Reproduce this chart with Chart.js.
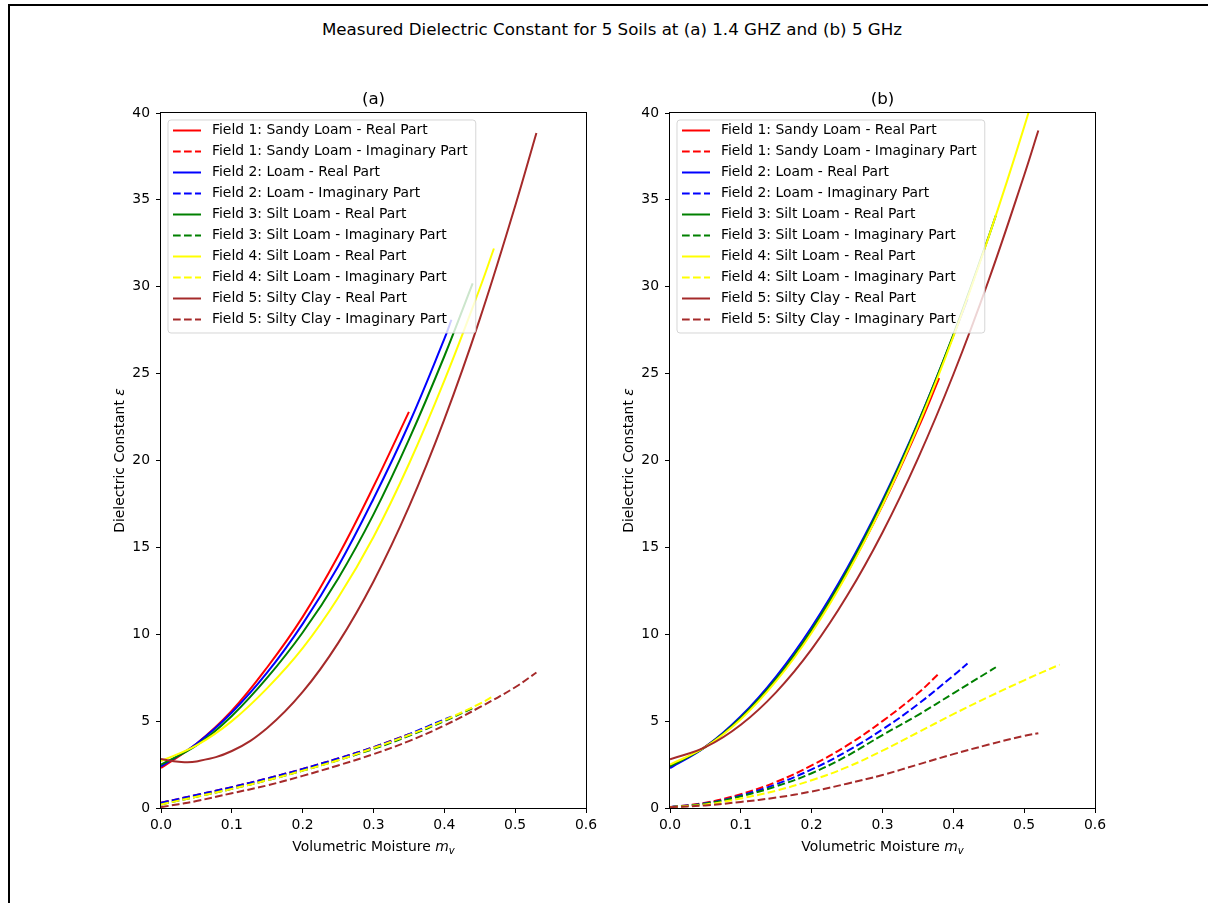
<!DOCTYPE html>
<html>
<head>
<meta charset="utf-8">
<title>Dielectric Constant of 5 Soils</title>
<script src="https://cdn.jsdelivr.net/npm/chart.js@4.4.1/dist/chart.umd.min.js"></script>
<style>
    html, body { margin: 0; padding: 0; background: #fff; }
    body { width: 1209px; height: 903px; position: relative; overflow: hidden; font-family: "DejaVu Sans", sans-serif; }
    #frame { position: absolute; left: 8px; top: 4px; right: 1px; bottom: -4px; border-top: 2px solid #000; border-left: 2px solid #000; }
    #suptitle { position: absolute; left: 15px; right: 0; top: 19px; line-height: 20px; text-align: center; font-size: 16.7px; color: #000; }
    canvas { position: absolute; top: 0; }
    #chart-a { left: 0; }
    #chart-b { left: 605px; }
</style>
</head>
<body>
<div id="frame"></div>
<div id="suptitle">Measured Dielectric Constant for 5 Soils at (a) 1.4 GHZ and (b) 5 GHz</div>
<canvas id="chart-a" width="605" height="903"></canvas>
<canvas id="chart-b" width="604" height="903"></canvas>
<script>
const fieldNames = ['Field 1: Sandy Loam', 'Field 2: Loam', 'Field 3: Silt Loam', 'Field 4: Silt Loam', 'Field 5: Silty Clay'];
const fieldColors = ['#ff0000', '#0000ff', '#008000', '#ffff00', '#a52a2a'];
const xTicks = [0, 0.1, 0.2, 0.3, 0.4, 0.5, 0.6];
const yTicks = [0, 5, 10, 15, 20, 25, 30, 35, 40];

// (a) 1.4 GHz - volumetric moisture per field and measured real / imaginary parts
const mvA1 = [0, 0.05, 0.1, 0.15, 0.2, 0.25, 0.3, 0.35];
const realA1 = [2.3, 3.7, 5.6, 8.1, 11.0, 14.5, 18.5, 22.8];
const imagA1 = [0.3, 0.75, 1.2, 1.7, 2.25, 2.85, 3.5, 4.25];

const mvA2 = [0, 0.05, 0.1, 0.15, 0.2, 0.25, 0.3, 0.35, 0.4, 0.41];
const realA2 = [2.4, 3.7, 5.5, 7.8, 10.6, 13.9, 17.8, 22.1, 27.0, 28.1];
const imagA2 = [0.3, 0.75, 1.2, 1.7, 2.25, 2.85, 3.5, 4.25, 5.1, 5.25];

const mvA3 = [0, 0.05, 0.1, 0.15, 0.2, 0.25, 0.3, 0.35, 0.4, 0.44];
const realA3 = [2.5, 3.6, 5.3, 7.5, 10.1, 13.2, 16.9, 21.2, 26.0, 30.2];
const imagA3 = [0.2, 0.65, 1.1, 1.6, 2.15, 2.75, 3.4, 4.15, 5.0, 5.75];

const mvA4 = [0, 0.05, 0.1, 0.15, 0.2, 0.25, 0.3, 0.35, 0.4, 0.45, 0.47];
const realA4 = [2.7, 3.6, 5.0, 6.9, 9.2, 12.1, 15.6, 19.8, 24.6, 29.9, 32.2];
const imagA4 = [0.2, 0.65, 1.1, 1.6, 2.15, 2.75, 3.45, 4.2, 5.05, 6.0, 6.45];

const mvA5 = [0, 0.025, 0.05, 0.1, 0.15, 0.2, 0.25, 0.3, 0.35, 0.4, 0.45, 0.5, 0.53];
const realA5 = [2.82, 2.66, 2.68, 3.28, 4.61, 6.68, 9.49, 13.04, 17.33, 22.37, 28.14, 34.65, 38.85];
const imagA5 = [0.05, 0.22, 0.4, 0.85, 1.3, 1.85, 2.45, 3.1, 3.85, 4.75, 5.8, 6.95, 7.8];

// (b) 5 GHz
const mvB1 = [0, 0.05, 0.1, 0.15, 0.2, 0.25, 0.3, 0.35, 0.38];
const realB1 = [2.4, 3.53, 5.2, 7.43, 10.2, 13.53, 17.4, 21.83, 24.74];
const imagB1 = [0.05, 0.3, 0.8, 1.5, 2.45, 3.6, 5.0, 6.6, 7.75];

const mvB2 = [0, 0.05, 0.1, 0.15, 0.2, 0.25, 0.3, 0.35, 0.4, 0.42];
const realB2 = [2.3, 3.52, 5.28, 7.58, 10.42, 13.8, 17.72, 22.18, 27.18, 29.3];
const imagB2 = [0.05, 0.27, 0.72, 1.37, 2.22, 3.27, 4.52, 5.97, 7.62, 8.32];

const mvB3 = [0, 0.05, 0.1, 0.15, 0.2, 0.25, 0.3, 0.35, 0.4, 0.45, 0.46];
const realB3 = [2.4, 3.51, 5.19, 7.44, 10.26, 13.65, 17.61, 22.14, 27.24, 32.9, 34.1];
const imagB3 = [0.05, 0.25, 0.67, 1.25, 2.0, 3.0, 4.2, 5.35, 6.6, 7.85, 8.1];

const mvB4 = [0, 0.05, 0.1, 0.15, 0.2, 0.25, 0.3, 0.35, 0.4, 0.45, 0.5, 0.55];
const realB4 = [2.5, 3.51, 5.11, 7.31, 10.09, 13.47, 17.43, 21.98, 27.13, 32.88, 39.2, 46.1];
const imagB4 = [0.05, 0.2, 0.55, 1.0, 1.6, 2.35, 3.3, 4.35, 5.4, 6.4, 7.35, 8.25];

const mvB5 = [0, 0.05, 0.1, 0.15, 0.2, 0.25, 0.3, 0.35, 0.4, 0.45, 0.5, 0.52];
const realB5 = [2.8, 3.5, 4.79, 6.67, 9.14, 12.21, 15.86, 20.11, 24.95, 30.39, 36.42, 38.99];
const imagB5 = [0.05, 0.15, 0.35, 0.6, 0.95, 1.4, 1.9, 2.5, 3.1, 3.65, 4.15, 4.3];

const FONT = '"DejaVu Sans", sans-serif';
const TEXT_PX = 13.9;
const DASH = [7.7, 3.3];

function buildDatasets(mvs, reals, imags) {
    const sets = [];
    fieldNames.forEach((name, i) => {
        sets.push({
            label: name + ' - Real Part',
            data: mvs[i].map((m, k) => ({ x: m, y: reals[i][k] })),
            borderColor: fieldColors[i],
            borderDash: []
        });
        sets.push({
            label: name + ' - Imaginary Part',
            data: mvs[i].map((m, k) => ({ x: m, y: imags[i][k] })),
            borderColor: fieldColors[i],
            borderDash: DASH
        });
    });
    // later series sit on top, like the plotting order
    sets.forEach((s, i) => {
        s.order = sets.length - i;
        s.borderWidth = 2;
        s.pointRadius = 0;
        s.fill = false;
        s.tension = 0.4;
    });
    return sets;
}

// draws a run of text pieces with their own fonts, centred on cx
function drawRich(ctx, parts, cx, baseline) {
    let total = 0;
    parts.forEach(p => { ctx.font = p.font; p.w = ctx.measureText(p.text).width; total += p.w; });
    let x = cx - total / 2;
    ctx.textAlign = 'left';
    ctx.textBaseline = 'alphabetic';
    parts.forEach(p => {
        ctx.font = p.font;
        ctx.fillText(p.text, x, baseline + (p.dy || 0));
        x += p.w;
    });
}

const panelDecor = {
    id: 'panelDecor',
    afterDatasetsDraw(chart) {
        const ctx = chart.ctx;
        const area = chart.chartArea;
        const sets = chart.data.datasets;
        const font = TEXT_PX + 'px ' + FONT;
        ctx.save();
        ctx.font = font;
        const textW = Math.max(...sets.map(d => ctx.measureText(d.label).width));
        const lx = area.left + 7, ly = area.top + 7;
        const rowH = 21;
        const w = 44 + textW + 8;
        const h = 10.5 + rowH * (sets.length - 1) + 13.5;

        ctx.beginPath();
        ctx.roundRect(lx, ly, w, h, 3);
        ctx.fillStyle = 'rgba(255,255,255,0.8)';
        ctx.fill();
        ctx.strokeStyle = 'rgba(204,204,204,0.8)';
        ctx.lineWidth = 1;
        ctx.stroke();

        sets.forEach((d, i) => {
            const cy = ly + 10.5 + i * rowH;
            ctx.beginPath();
            ctx.setLineDash(d.borderDash);
            ctx.strokeStyle = d.borderColor;
            ctx.lineWidth = 2;
            ctx.moveTo(lx + 5, cy);
            ctx.lineTo(lx + 33, cy);
            ctx.stroke();
            ctx.setLineDash([]);
            ctx.fillStyle = '#000';
            ctx.textBaseline = 'middle';
            ctx.font = font;
            ctx.fillText(d.label, lx + 44, cy);
        });
        ctx.restore();
    },
    afterDraw(chart, args, opts) {
        const ctx = chart.ctx;
        const area = chart.chartArea;
        const cx = (area.left + area.right) / 2;
        const cy = (area.top + area.bottom) / 2;
        ctx.save();

        // axes frame
        ctx.strokeStyle = '#000';
        ctx.lineWidth = 1;
        ctx.strokeRect(area.left - 0.5, area.top - 0.5, area.right - area.left + 1, area.bottom - area.top + 1);

        ctx.fillStyle = '#000';
        // panel title
        ctx.font = '16.7px ' + FONT;
        ctx.textAlign = 'center';
        ctx.textBaseline = 'alphabetic';
        ctx.fillText(opts.title, cx, area.top - 9);

        // x axis title
        drawRich(ctx, [
            { text: 'Volumetric Moisture ', font: TEXT_PX + 'px ' + FONT },
            { text: 'm', font: 'italic ' + TEXT_PX + 'px ' + FONT },
            { text: 'v', font: 'italic 10px ' + FONT, dy: 2.5 }
        ], cx, area.bottom + 43);

        // y axis title
        ctx.translate(area.left - 37, cy);
        ctx.rotate(-Math.PI / 2);
        drawRich(ctx, [
            { text: 'Dielectric Constant ', font: TEXT_PX + 'px ' + FONT },
            { text: 'ε', font: 'italic ' + TEXT_PX + 'px ' + FONT }
        ], 0, 0);
        ctx.restore();
    }
};

function makeChart(id, datasets, title, yWidth, rightPad) {
    const tickFont = { family: 'DejaVu Sans', size: TEXT_PX };
    return new Chart(document.getElementById(id), {
        type: 'line',
        data: { datasets: datasets },
        options: {
            responsive: false,
            animation: false,
            devicePixelRatio: 1,
            layout: { padding: { top: 113, right: rightPad, bottom: 55, left: 0 } },
            plugins: {
                legend: { display: false },
                tooltip: { enabled: false },
                panelDecor: { title: title }
            },
            scales: {
                x: {
                    type: 'linear',
                    min: xTicks[0],
                    max: xTicks[xTicks.length - 1],
                    afterFit: s => { s.height = 40; },
                    afterBuildTicks: s => { s.ticks = xTicks.map(v => ({ value: v })); },
                    border: { display: false },
                    grid: { drawOnChartArea: false, drawTicks: true, tickLength: 5, color: '#000', lineWidth: 1 },
                    ticks: { autoSkip: false, maxRotation: 0, padding: 4, color: '#000', font: tickFont,
                        callback: v => Number(v).toFixed(1) }
                },
                y: {
                    type: 'linear',
                    min: yTicks[0],
                    max: yTicks[yTicks.length - 1],
                    afterFit: s => { s.width = yWidth; },
                    afterBuildTicks: s => { s.ticks = yTicks.map(v => ({ value: v })); },
                    border: { display: false },
                    grid: { drawOnChartArea: false, drawTicks: true, tickLength: 5, color: '#000', lineWidth: 1 },
                    ticks: { padding: 6, color: '#000', font: tickFont, callback: v => String(v) }
                }
            }
        },
        plugins: [panelDecor]
    });
}

makeChart('chart-a',
    buildDatasets([mvA1, mvA2, mvA3, mvA4, mvA5], [realA1, realA2, realA3, realA4, realA5], [imagA1, imagA2, imagA3, imagA4, imagA5]),
    '(a)', 161, 19);
makeChart('chart-b',
    buildDatasets([mvB1, mvB2, mvB3, mvB4, mvB5], [realB1, realB2, realB3, realB4, realB5], [imagB1, imagB2, imagB3, imagB4, imagB5]),
    '(b)', 65, 114);
</script>
</body>
</html>
